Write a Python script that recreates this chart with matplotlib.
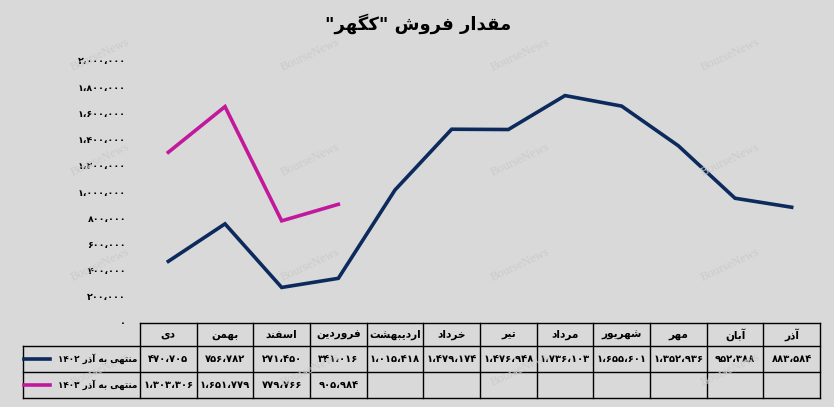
import re
import matplotlib
matplotlib.use("Agg")
import matplotlib.pyplot as plt
from matplotlib.transforms import blended_transform_factory

plt.rcParams['font.family'] = ['DejaVu Sans']

# contextual forms for the Persian letters used on this chart
JOIN = {
    'ا': ('\uFE8D', '\uFE8E', None, None),
    'آ': ('\uFE81', '\uFE82', None, None),
    'ب': ('\uFE8F', '\uFE90', '\uFE91', '\uFE92'),
    'ت': ('\uFE95', '\uFE96', '\uFE97', '\uFE98'),
    'خ': ('\uFEA5', '\uFEA6', '\uFEA7', '\uFEA8'),
    'د': ('\uFEA9', '\uFEAA', None, None),
    'ذ': ('\uFEAB', '\uFEAC', None, None),
    'ر': ('\uFEAD', '\uFEAE', None, None),
    'س': ('\uFEB1', '\uFEB2', '\uFEB3', '\uFEB4'),
    'ش': ('\uFEB5', '\uFEB6', '\uFEB7', '\uFEB8'),
    'ف': ('\uFED1', '\uFED2', '\uFED3', '\uFED4'),
    'ق': ('\uFED5', '\uFED6', '\uFED7', '\uFED8'),
    'م': ('\uFEE1', '\uFEE2', '\uFEE3', '\uFEE4'),
    'ن': ('\uFEE5', '\uFEE6', '\uFEE7', '\uFEE8'),
    'ه': ('\uFEE9', '\uFEEA', '\uFEEB', '\uFEEC'),
    'و': ('\uFEED', '\uFEEE', None, None),
    'ی': ('\uFBFC', '\uFBFD', '\uFBFE', '\uFBFF'),
    'ک': ('\uFB8E', '\uFB8F', '\uFB90', '\uFB91'),
    'گ': ('\uFB92', '\uFB93', '\uFB94', '\uFB95'),
}


def fa(s):
    out = []
    for i, c in enumerate(s):
        f = JOIN.get(c)
        if f is None:
            out.append(c)
            continue
        prev = JOIN.get(s[i - 1]) if i > 0 else None
        nxt = JOIN.get(s[i + 1]) if i + 1 < len(s) else None
        jp = prev is not None and prev[2] is not None
        jn = nxt is not None and f[2] is not None
        if jp and jn:
            out.append(f[3])
        elif jp:
            out.append(f[1])
        elif jn:
            out.append(f[2])
        else:
            out.append(f[0])
    vis = ''.join(out)[::-1]
    return re.sub(r'[۰-۹،]+', lambda m: m.group(0)[::-1], vis)


DIG = str.maketrans('0123456789', '۰۱۲۳۴۵۶۷۸۹')


def num(v):
    return f"{v:,}".replace(',', '،').translate(DIG)


title = 'مقدار فروش "کگهر"'
months = ['دی', 'بهمن', 'اسفند', 'فروردین', 'اردیبهشت', 'خرداد', 'تیر',
          'مرداد', 'شهریور', 'مهر', 'آبان', 'آذر']
name_1402 = 'منتهی به آذر ۱۴۰۲'
name_1403 = 'منتهی به آذر ۱۴۰۳'
sales_1402 = [470705, 756782, 271450, 341016, 1015418, 1479174, 1476948,
              1736103, 1655601, 1352936, 952388, 883584]
sales_1403 = [1303306, 1651779, 779766, 905984]
yticks = list(range(0, 2000001, 200000))

blue = '#0c2a5c'
pink = '#c2189b'
bg = '#d9d9d9'

W, H = 834, 407
fig = plt.figure(figsize=(W / 100, H / 100), dpi=100, facecolor=bg)
ax = fig.add_axes([140 / W, 1 - 323 / H, 680 / W, 262 / H])
ax.set_facecolor(bg)
for s in ax.spines.values():
    s.set_visible(False)

x = list(range(len(months)))
ax.plot(x, sales_1402, color=blue, lw=2.6, solid_joinstyle='miter')
ax.plot(x[:len(sales_1403)], sales_1403, color=pink, lw=2.6, solid_joinstyle='miter')
ax.set_xlim(-0.5, len(months) - 0.5)
ax.set_ylim(0, 2000000)
ax.set_xticks([])
ax.set_yticks(yticks)
ax.set_yticklabels([num(v) for v in yticks], fontsize=6.8, fontweight='bold')
ax.tick_params(axis='y', length=0, pad=10)

fig.text(418 / W, 1 - 24 / H, fa(title), ha='center', va='center',
         fontsize=13, fontweight='bold')

# watermarks
for wx in [100, 310, 520, 730]:
    for wy in [55, 160, 265, 370]:
        fig.text(wx / W, 1 - wy / H, 'BourseNews', rotation=25, ha='center',
                 va='center', fontsize=9, color='#cbcbcb', family='Liberation Serif',
                 zorder=0)

# data table under the plot
tr = blended_transform_factory(ax.transData, fig.transFigure)
colw = 680 / 12
xl = -0.5 - (139 - 22) / colw
xr = len(months) - 0.5
rows = [1 - 323 / H, 1 - 346 / H, 1 - 372 / H, 1 - 398 / H]
kw = dict(transform=tr, color='black', lw=1, clip_on=False)

ax.plot([-0.5, xr], [rows[0], rows[0]], **kw)
for r in rows[1:]:
    ax.plot([xl, xr], [r, r], **kw)
ax.plot([xl, xl], [rows[1], rows[3]], **kw)
for i in range(len(months) + 1):
    ax.plot([i - 0.5, i - 0.5], [rows[0], rows[3]], **kw)

ymid = [(rows[i] + rows[i + 1]) / 2 for i in range(3)]
for i, m in enumerate(months):
    ax.text(i, ymid[0], fa(m), transform=tr, ha='center', va='center',
            fontsize=7.6, fontweight='bold')
for i, v in enumerate(sales_1402):
    ax.text(i, ymid[1], num(v), transform=tr, ha='center', va='center',
            fontsize=7.2, fontweight='bold')
for i, v in enumerate(sales_1403):
    ax.text(i, ymid[2], num(v), transform=tr, ha='center', va='center',
            fontsize=7.2, fontweight='bold')

for row, name, col in [(1, name_1402, blue), (2, name_1403, pink)]:
    fig.lines.append(plt.Line2D([24 / W, 50 / W], [ymid[row], ymid[row]],
                                color=col, lw=2.6, transform=fig.transFigure))
    fig.text(137 / W, ymid[row], fa(name), ha='right', va='center',
             fontsize=6.4, fontweight='bold')

fig.savefig('out.png', dpi=100, facecolor=bg)
